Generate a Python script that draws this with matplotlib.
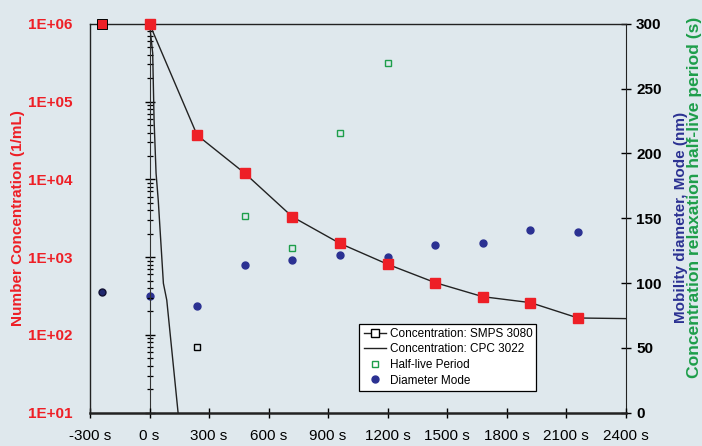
import matplotlib.pyplot as plt
from matplotlib.lines import Line2D
from matplotlib.ticker import NullLocator

plt.rcParams['font.family'] = ['Liberation Sans', 'DejaVu Sans']

# SMPS 3080 concentration (1/mL) vs time (s)
smps_time = [-240, 0, 240, 480, 720, 960, 1200, 1440, 1680, 1920, 2160, 2400]
smps_conc = [1.0e6, 1.0e6, 3.7e4, 1.2e4, 3.3e3, 1.5e3, 8.1e2, 4.7e2, 3.1e2, 2.6e2, 1.65e2, 1.62e2]
# CPC 3022 concentration
cpc_time = [-300, 0, 16, 23, 33, 44, 70, 87, 144]
cpc_conc = [1.0e6, 1.0e6, 4.2e5, 5.8e4, 1.2e4, 5.4e3, 4.6e2, 2.8e2, 10]
# half-live period (s), right axis
half_time = [240, 480, 720, 960, 1200]
half_life = [51, 152, 127, 216, 270]
# mobility diameter mode (nm), right axis
mode_time = [-240, 0, 240, 480, 720, 960, 1200, 1440, 1680, 1920, 2160]
mode_diam = [93, 90, 82, 114, 117.5, 122, 120, 129, 131, 141, 139.5]

x_ticks = list(range(-300, 2401, 300))
conc_ticks = [1e1, 1e2, 1e3, 1e4, 1e5, 1e6]
right_ticks = list(range(0, 301, 50))

bg = '#dfe8ed'
red = '#ee1f26'
blue = '#2b3192'
green = '#1d9e4a'
dark = '#222222'

fig = plt.figure(figsize=(7.02, 4.46), dpi=100, facecolor=bg)
ax = fig.add_axes([0.1282, 0.0747, 0.763, 0.872])
ax2 = ax.twinx()
ax.set_zorder(ax2.get_zorder() + 1)
ax.patch.set_visible(False)
ax2.patch.set_visible(False)

# concentration series (left, log)
ax.plot(cpc_time, cpc_conc, color=dark, lw=1, zorder=2)
ax.plot(smps_time, smps_conc, color=dark, lw=1, zorder=2)
ax.plot(smps_time[1:-1], smps_conc[1:-1], ls='none', marker='s', ms=6.5,
        mfc=red, mec=red, zorder=3, clip_on=False)
ax.plot(smps_time[:1], smps_conc[:1], ls='none', marker='s', ms=6.5,
        mfc=red, mec='black', mew=0.7, zorder=3, clip_on=False)

# right axis series
ax2.plot(mode_time[1:], mode_diam[1:], ls='none', marker='o', ms=5,
         mfc=blue, mec=blue)
ax2.plot(mode_time[:1], mode_diam[:1], ls='none', marker='o', ms=5,
         mfc='#20286e', mec='#111133')
ax2.plot(half_time[1:], half_life[1:], ls='none', marker='s', ms=4,
         mfc='none', mec=green, mew=1)
ax2.plot(half_time[:1], half_life[:1], ls='none', marker='s', ms=4,
         mfc='none', mec='black', mew=1)

ax.set_xlim(-300, 2400)
ax.set_yscale('log')
ax.set_ylim(10, 1e6)
ax2.set_ylim(0, 300)

ax.set_xticks(x_ticks, labels=[f"{t} s" for t in x_ticks])
ax.tick_params(axis='x', direction='inout', length=7, width=1, labelsize=11, pad=8)
ax.set_yticks(conc_ticks, labels=[f"{v:.0E}" for v in conc_ticks],
              fontweight='bold', color=red)
ax.yaxis.set_minor_locator(NullLocator())
ax.tick_params(axis='y', which='both', left=False, labelsize=11, pad=9)

ax2.set_yticks(right_ticks, labels=[str(v) for v in right_ticks], fontweight='bold')
ax2.tick_params(axis='y', direction='inout', length=7, width=1, labelsize=11, pad=4)

for name, sp in ax.spines.items():
    sp.set_color(dark)
    sp.set_linewidth(1)
ax.spines['right'].set_visible(False)
ax.spines['bottom'].set_linewidth(1.8)
for name, sp in ax2.spines.items():
    sp.set_visible(name == 'right')
ax2.spines['right'].set_color(dark)

# vertical log axis crossing at 0 s
sec = ax.secondary_yaxis(1 / 9)
sec.tick_params(which='major', direction='inout', length=7, width=1,
                labelleft=False, labelright=False)
sec.tick_params(which='minor', direction='inout', length=5, width=0.9,
                labelleft=False, labelright=False)
for sp in sec.spines.values():
    sp.set_color('#333333')

handles = [
    Line2D([], [], color=dark, lw=1, marker='s', ms=6, mfc='white', mec='black'),
    Line2D([], [], color=dark, lw=1),
    Line2D([], [], ls='none', marker='s', ms=4, mfc='none', mec=green, mew=1),
    Line2D([], [], ls='none', marker='o', ms=5, mfc=blue, mec=blue),
]
labels = ['Concentration: SMPS 3080', 'Concentration: CPC 3022',
          'Half-live Period', 'Diameter Mode']
leg = ax.legend(handles, labels, loc='lower left', bbox_to_anchor=(0.503, 0.0566),
                borderaxespad=0, fontsize=8.5, fancybox=False, edgecolor='black',
                framealpha=1, handlelength=1.9, labelspacing=0.3, borderpad=0.35,
                handletextpad=0.3)
leg.get_frame().set_linewidth(0.9)

fig.text(18.5 / 702, 0.512, 'Number Concentration (1/mL)', rotation=90,
         ha='center', va='center', color=red, fontweight='bold', fontsize=11)
fig.text(680.7 / 702, 1 - 217 / 446, 'Mobility diameter, Mode (nm)', rotation=90,
         ha='center', va='center', color=blue, fontweight='bold', fontsize=11)
fig.text(694.5 / 702, 1 - 197 / 446, 'Concentration relaxation half-live period (s)',
         rotation=90, ha='center', va='center', color=green, fontweight='bold',
         fontsize=12.6)

fig.savefig('out.png', dpi=100, facecolor=bg)
